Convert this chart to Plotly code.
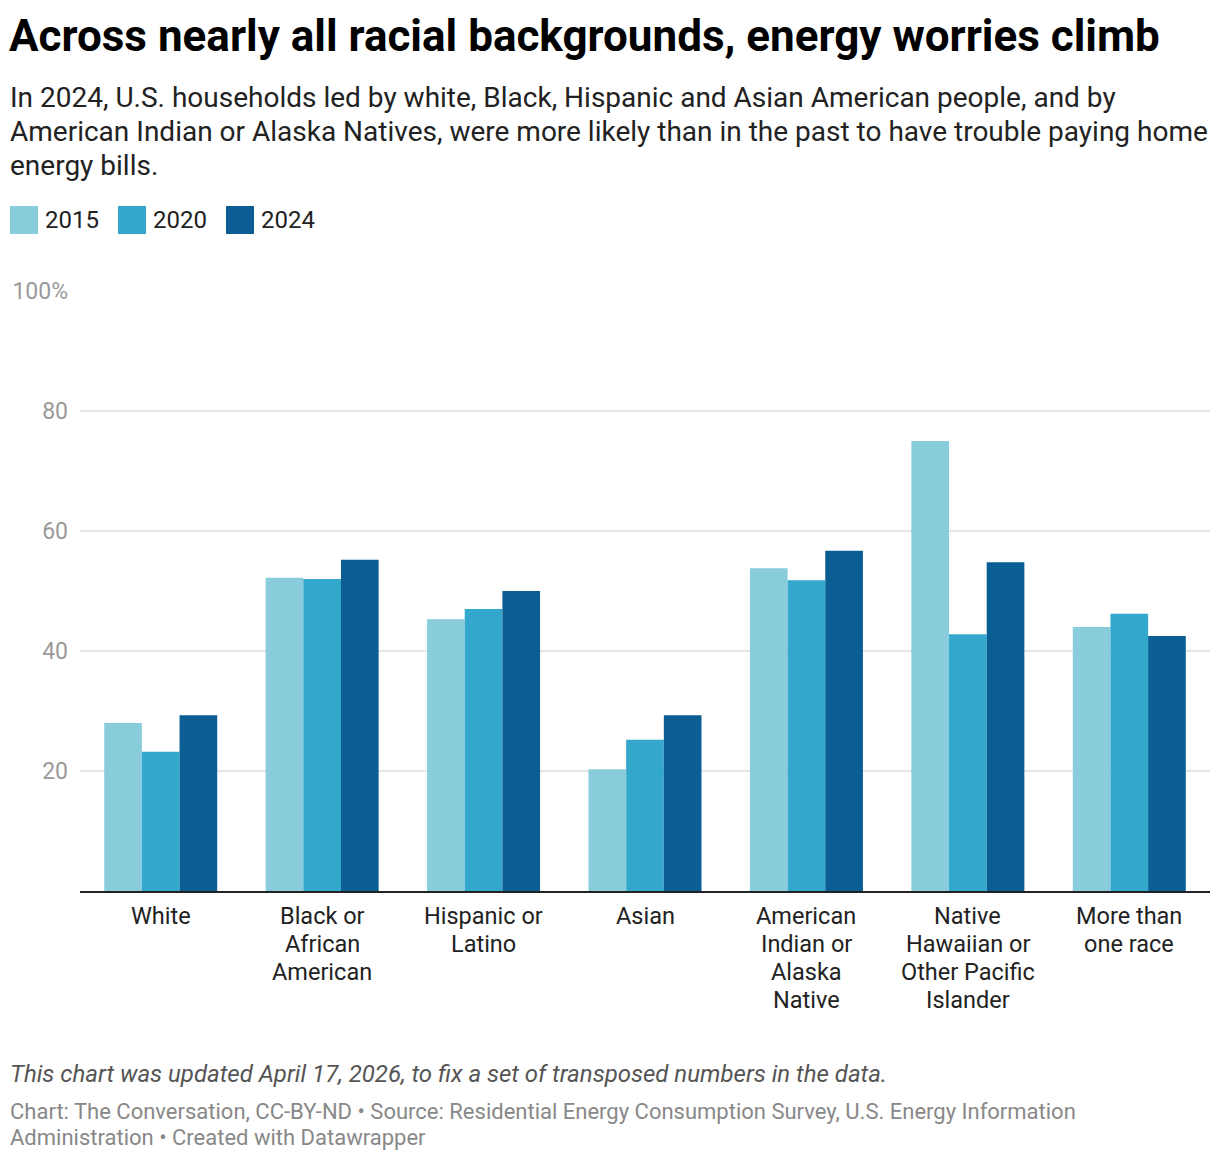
import plotly.graph_objects as go

categories = ["White", "Black or<br>African<br>American", "Hispanic or<br>Latino", "Asian",
              "American<br>Indian or<br>Alaska<br>Native", "Native<br>Hawaiian or<br>Other Pacific<br>Islander",
              "More than<br>one race"]
v2015 = [28.0, 52.2, 45.3, 20.3, 53.8, 75.0, 44.0]
v2020 = [23.2, 52.0, 47.0, 25.2, 51.8, 42.8, 46.2]
v2024 = [29.3, 55.2, 50.0, 29.3, 56.7, 54.8, 42.5]
years = ["2015", "2020", "2024"]
colors = ["#89cddd", "#34a7cc", "#0a5e93"]
tick_vals = [20, 40, 60, 80, 100]
tick_text = ["20", "40", "60", "80", "100%"]

title = "Across nearly all racial backgrounds, energy worries climb"
subtitle_lines = [
    "In 2024, U.S. households led by white, Black, Hispanic and Asian American people, and by",
    "American Indian or Alaska Natives, were more likely than in the past to have trouble paying home",
    "energy bills.",
]
note = "This chart was updated April 17, 2026, to fix a set of transposed numbers in the data."
source_lines = [
    "Chart: The Conversation, CC-BY-ND • Source: Residential Energy Consumption Survey, U.S. Energy Information",
    "Administration • Created with Datawrapper",
]

# page body margin offset (px) compensated so the screenshot lines up
OFF = 8
W, H = 1220 - OFF, 1160 - OFF
L, R = 80 - OFF, 10
T = 291 - OFF
B = H - (891 - OFF)
PW = W - L - R
PH = H - T - B


def py(pix):
    return (H - B - (pix - OFF)) / PH


def px(pix):
    return ((pix - OFF) - L) / PW


fig = go.Figure()
for yr, vals, c in zip(years, [v2015, v2020, v2024], colors):
    fig.add_trace(go.Bar(name=yr, x=categories, y=vals, marker=dict(color=c, line=dict(width=0)),
                         showlegend=False,
                         hovertemplate="%{y}%<extra>" + yr + "</extra>"))

fig.update_layout(
    width=W, height=H,
    margin=dict(l=L, r=R, t=T, b=B, autoexpand=False),
    paper_bgcolor="white", plot_bgcolor="white",
    barmode="group", bargap=0.3, bargroupgap=0,
    font=dict(family="Roboto", color="#222"),
    title=dict(text="<b>" + title + "</b>", x=1 / W, xanchor="left", xref="container",
               y=1 - (36 - OFF) / H, yanchor="middle", yref="container",
               font=dict(size=44, color="#000", family="Roboto")),
    showlegend=False,
    xaxis=dict(showgrid=False, showline=True, linecolor="#222", linewidth=2, automargin=False,
               showticklabels=False, ticks="", fixedrange=True),
    yaxis=dict(range=[0, 100], tickvals=tick_vals, ticktext=tick_text, showgrid=True,
               gridcolor="#e5e5e5", gridwidth=1.5, zeroline=False, showline=False, automargin=False,
               tickfont=dict(size=23, color="#9a9a9a"), ticks="", ticklabelstandoff=11,
               fixedrange=True),
)

# category labels, one line at a time for Datawrapper-like line spacing
for cat in categories:
    for j, part in enumerate(cat.split("<br>")):
        fig.add_annotation(text=part, xref="x", yref="paper", x=cat, xanchor="center",
                           y=py(916 + 28 * j), yanchor="middle", showarrow=False,
                           font=dict(size=23.5, color="#222"))

# legend (manual, Datawrapper style)
leg_x = [10, 118, 226]
for x0, yr, c in zip(leg_x, years, colors):
    fig.add_shape(type="rect", xref="paper", yref="paper", x0=px(x0), x1=px(x0 + 28),
                  y0=py(206), y1=py(234), fillcolor=c, line=dict(width=0))
    fig.add_annotation(text=yr, xref="paper", yref="paper", x=px(x0 + 33), xanchor="left",
                       y=py(220), yanchor="middle", showarrow=False,
                       font=dict(size=24, color="#222"))

xl = px(8)
for i, line in enumerate(subtitle_lines):
    fig.add_annotation(text=line, xref="paper", yref="paper", x=xl, xanchor="left",
                       y=py(97 + 34 * i), yanchor="middle", showarrow=False,
                       font=dict(size=28, color="#222"))
fig.add_annotation(text="<i>" + note + "</i>", xref="paper", yref="paper", x=xl, xanchor="left",
                   y=py(1074), yanchor="middle", showarrow=False, font=dict(size=24, color="#555"))
for i, line in enumerate(source_lines):
    fig.add_annotation(text=line, xref="paper", yref="paper", x=xl, xanchor="left",
                       y=py(1111 + 26 * i), yanchor="middle", showarrow=False,
                       font=dict(size=22, color="#888"))

fig.write_html("out.html")
